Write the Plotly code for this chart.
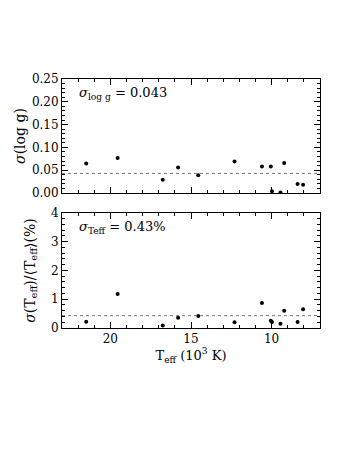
import plotly.graph_objects as go
from plotly.subplots import make_subplots

# Teff in units of 10^3 K (same stars in both panels)
teff = [21.5, 19.55, 16.75, 15.8, 14.55, 12.3, 10.6, 10.05, 9.98, 9.45, 9.22, 8.39, 8.05]
sigma_logg = [0.065, 0.077, 0.029, 0.056, 0.039, 0.069, 0.058, 0.058, 0.004, 0.001, 0.066, 0.020, 0.018]
sigma_teff_pct = [0.22, 1.18, 0.09, 0.36, 0.42, 0.20, 0.87, 0.25, 0.21, 0.15, 0.60, 0.21, 0.65]

mean_logg = 0.043
mean_teff = 0.43

FONT = "DejaVu Serif"

fig = make_subplots(rows=2, cols=1, shared_xaxes=False, vertical_spacing=0.08)

fig.add_trace(go.Scatter(x=teff, y=sigma_logg, mode="markers",
                         marker=dict(color="black", size=4), showlegend=False), row=1, col=1)
fig.add_trace(go.Scatter(x=teff, y=sigma_teff_pct, mode="markers",
                         marker=dict(color="black", size=4), showlegend=False), row=2, col=1)

# mean lines
for xref, yref, val in [("x domain", "y", mean_logg), ("x2 domain", "y2", mean_teff)]:
    fig.add_shape(type="line", xref=xref, yref=yref,
                  x0=0, x1=1, y0=val, y1=val,
                  line=dict(color="#777", width=1, dash="dot"))

axis_common = dict(
    showline=True, linecolor="black", linewidth=1, mirror="allticks",
    ticks="inside", ticklen=6, tickcolor="black", tickwidth=1,
    showgrid=False, zeroline=False,
    tickfont=dict(family=FONT, size=12, color="black"),
)

fig.update_xaxes(range=[23, 7], dtick=5, tick0=0,
                 minor=dict(ticks="inside", dtick=1, ticklen=3, tickcolor="black", showgrid=False),
                 **axis_common)
fig.update_xaxes(showticklabels=False, row=1, col=1)
fig.update_xaxes(title=dict(text="T<sub>eff</sub> (10<sup>3</sup> K)",
                            font=dict(family=FONT, size=13, color="black"), standoff=2),
                 row=2, col=1)

fig.update_yaxes(range=[0, 0.25], dtick=0.05, tickformat=".2f",
                 minor=dict(ticks="inside", dtick=0.01, ticklen=3, tickcolor="black", showgrid=False),
                 title=dict(text="<i>σ</i>(log g)", font=dict(family=FONT, size=14, color="black"),
                            standoff=2),
                 row=1, col=1, **axis_common)
fig.update_yaxes(range=[0, 4], dtick=1,
                 minor=dict(ticks="inside", dtick=0.2, ticklen=3, tickcolor="black", showgrid=False),
                 title=dict(text="<i>σ</i>(T<sub>eff</sub>)/⟨T<sub>eff</sub>⟩(%)",
                            font=dict(family=FONT, size=14, color="black"), standoff=12),
                 row=2, col=1, **axis_common)

# page body adds ~8px offset, so the figure is a bit smaller and shifted
fig.update_layout(
    width=330, height=442,
    margin=dict(l=54, r=18, t=71, b=122),
    paper_bgcolor="white", plot_bgcolor="white",
    font=dict(family=FONT, color="black"),
    yaxis=dict(domain=[0.542, 1]),
    yaxis2=dict(domain=[0, 0.462]),
)

fig.add_annotation(text="<i>σ</i><sub>log g</sub> = 0.043", xref="x domain", yref="y domain",
                   x=0.06, y=0.87, xanchor="left", yanchor="middle", showarrow=False,
                   font=dict(family=FONT, size=13, color="black"))
fig.add_annotation(text="<i>σ</i><sub>Teff</sub> = 0.43%", xref="x2 domain", yref="y2 domain",
                   x=0.06, y=0.87, xanchor="left", yanchor="middle", showarrow=False,
                   font=dict(family=FONT, size=13, color="black"))

fig.write_html("out.html")
